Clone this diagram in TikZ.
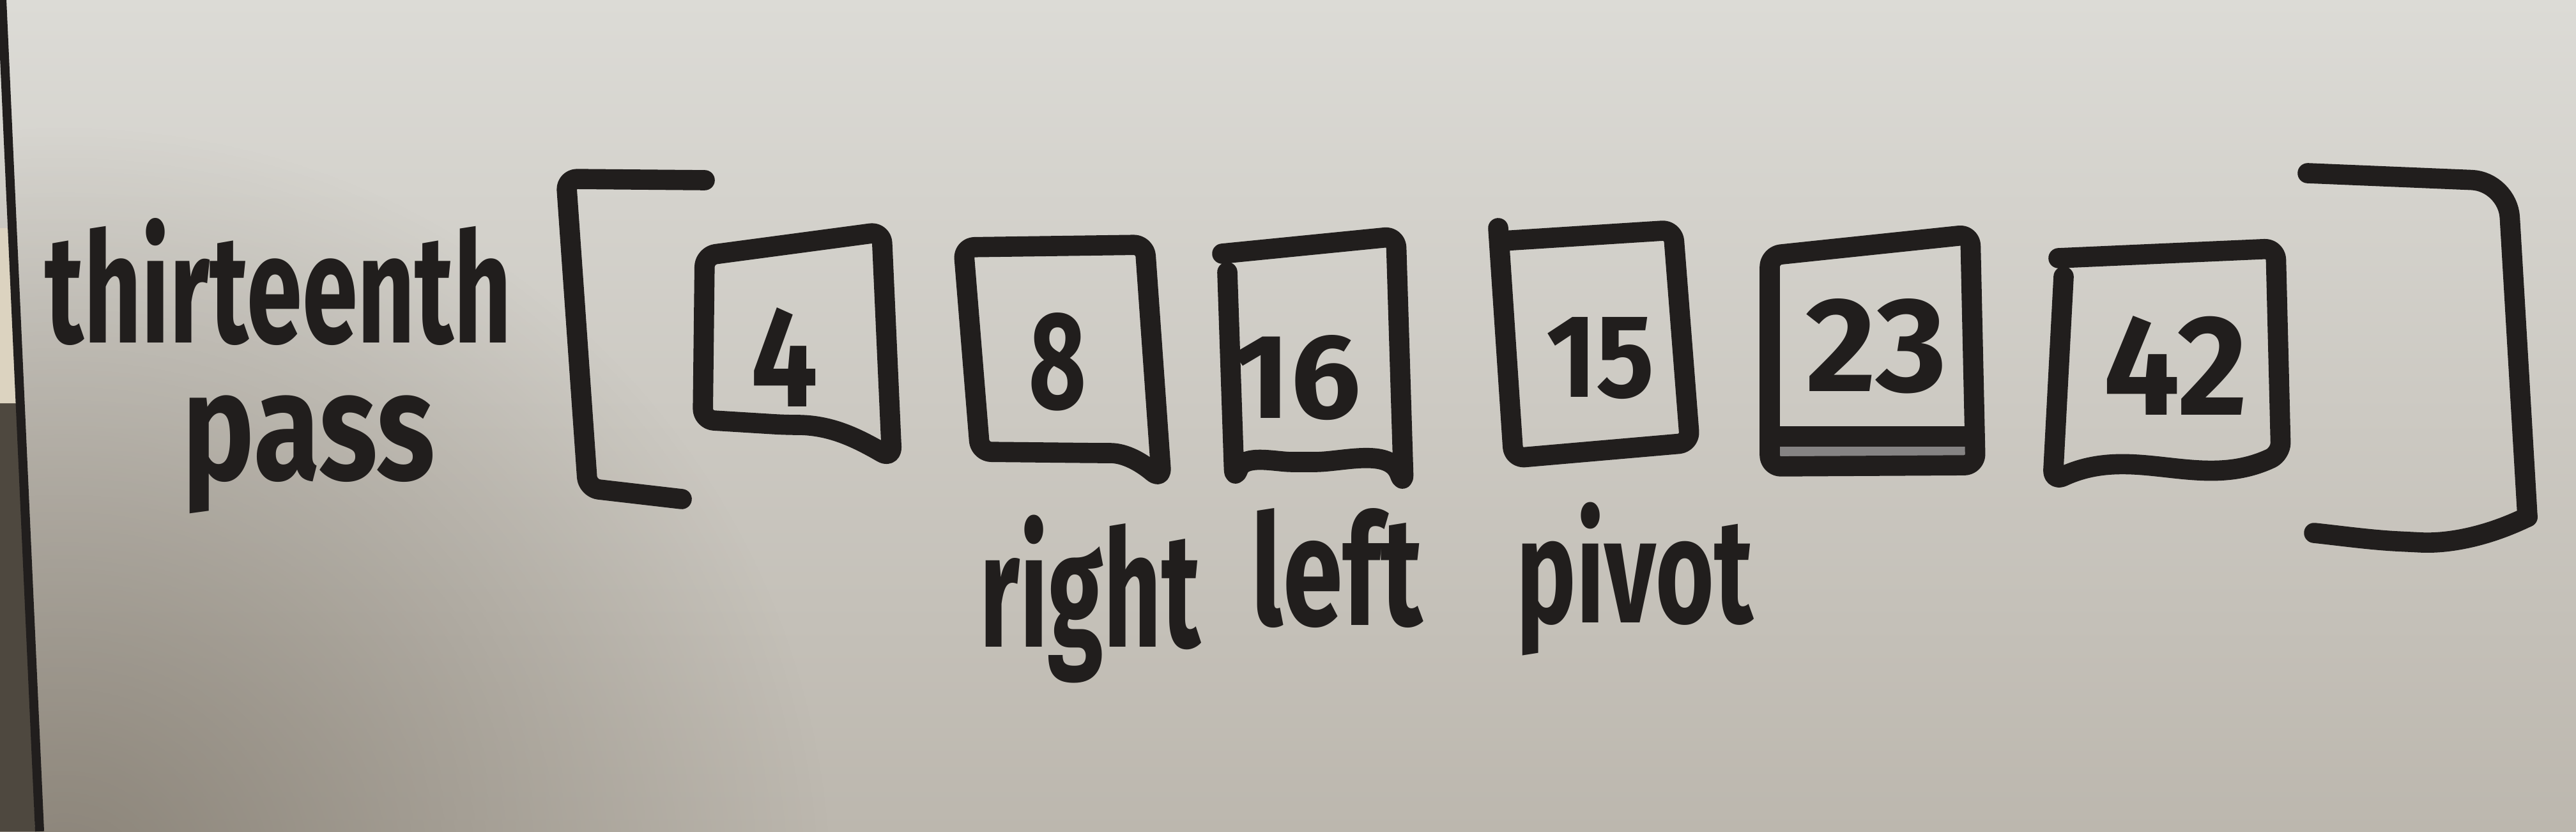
\documentclass[tikz,border=0pt]{standalone}
\usepackage{fontspec}
\setmainfont{Fira Sans}
\usepackage{graphicx}
\usetikzlibrary{fadings}

\definecolor{ink}{HTML}{211E1D}
\definecolor{boardtop}{HTML}{DCDBD6}
\definecolor{boardlow}{HTML}{BCB7AE}
\definecolor{shadow}{HTML}{756D61}
\definecolor{wall}{HTML}{4E483F}
\definecolor{cream}{HTML}{DCD3C0}

% marker text squeezed to a given width and height
\newcommand{\ink}[3]{\resizebox{#1}{#2}{\bfseries #3}}
\newcommand{\inkd}[3]{\resizebox*{#1}{#2}{\bfseries #3}}

\tikzfading[name=vignette, inner color=transparent!30, outer color=transparent!100]

\begin{document}
\begin{tikzpicture}[pen/.style={draw=ink,line width=9pt,line cap=round,line join=round,rounded corners=5pt},
                    num/.style={inner sep=0pt,text=ink},
                    word/.style={inner sep=0pt,text=ink,anchor=south west}]
        \useasboundingbox (0,0) rectangle (40.32,13.01);

        % The board
        \shade[top color=boardtop,bottom color=boardlow] (0,0) rectangle (40.32,13.01);
        \begin{scope}
            \clip (0,0) rectangle (40.32,13.01);
            \fill[shadow,path fading=vignette] (1,-1) circle (12);
        \end{scope}

        % Frame on the left
        \fill[wall] (0,0) -- (0.55,0) -- (0.30,6.70) -- (0,6.70) -- cycle;
        \fill[cream] (0,6.70) -- (0.30,6.70) -- (0.17,9.44) -- (0,9.44) -- cycle;
        \draw[ink,line width=4pt] (0.03,13.01) -- (0.62,0);

        % Title
        \node[word] (title) at (0.70,7.60) {\ink{7.3cm}{1.95cm}{thirteenth}};
        \node[word] (pass) at (2.85,4.96) {\inkd{3.95cm}{1.85cm}{pass}};

        % Brackets
        \draw[pen] (11.03,10.19) -- (8.86,10.21) -- (9.20,5.37) -- (10.67,5.20);
        \draw[pen,rounded corners=16pt] (36.12,10.30) -- (39.25,10.17) -- (39.56,4.92);
        \draw[pen] (39.56,4.92) .. controls (38.9,4.60) and (38.3,4.50) .. (37.71,4.53)
            .. controls (37.1,4.56) and (36.6,4.63) .. (36.22,4.67);

        % Boxes
        \draw[pen] (11.03,9.01) -- (13.80,9.38) -- (13.96,5.84) to[out=150,in=0] (12.30,6.36) -- (11.00,6.44) -- cycle;
        \draw[pen] (15.08,9.14) -- (17.92,9.18) -- (18.18,5.51) to[out=140,in=0] (17.20,5.92) -- (15.34,5.94) -- cycle;
        \draw[pen] (19.21,8.75) -- (19.32,5.50) to[out=70,in=180] (20.40,5.78) to[out=0,in=110] (21.97,5.42)
            -- (21.85,9.31) -- (19.13,9.04);
        \draw[pen] (23.45,9.44) -- (23.69,5.84) -- (26.45,6.08) -- (26.19,9.41) -- (23.52,9.24);
        \fill[ink!55] (27.80,5.75) rectangle (30.85,6.18);
        \draw[pen] (27.70,9.01) -- (30.84,9.34) -- (30.92,5.73) -- (27.70,5.71) -- cycle;
        \draw[pen] (27.80,6.18) -- (30.85,6.18);
        \draw[pen] (32.30,8.68) -- (32.13,5.48) to[out=25,in=205] (35.70,5.91) -- (35.62,9.12) -- (32.22,8.97);

        % Numbers
        \node[num] (n4) at (12.28,7.42) {\ink{1.05cm}{1.55cm}{4}};
        \node[num] (n8) at (16.55,7.35) {\ink{0.90cm}{1.50cm}{8}};
        \node[num] (n16) at (20.30,7.10) {\ink{2.00cm}{1.30cm}{16}};
        \node[num] (n15) at (25.05,7.40) {\ink{1.70cm}{1.25cm}{15}};
        \node[num] (n23) at (29.37,7.59) {\ink{2.20cm}{1.45cm}{23}};
        \node[num] (n42) at (34.05,7.29) {\ink{2.25cm}{1.55cm}{42}};

        % Pointers
        \node[word] (right) at (15.33,2.31) {\inkd{3.45cm}{2.63cm}{right}};
        \node[word] (left) at (19.58,3.18) {\ink{2.68cm}{1.83cm}{left}};
        \node[word] (pivot) at (23.73,2.74) {\inkd{3.70cm}{2.40cm}{pivot}};
\end{tikzpicture}
\end{document}
